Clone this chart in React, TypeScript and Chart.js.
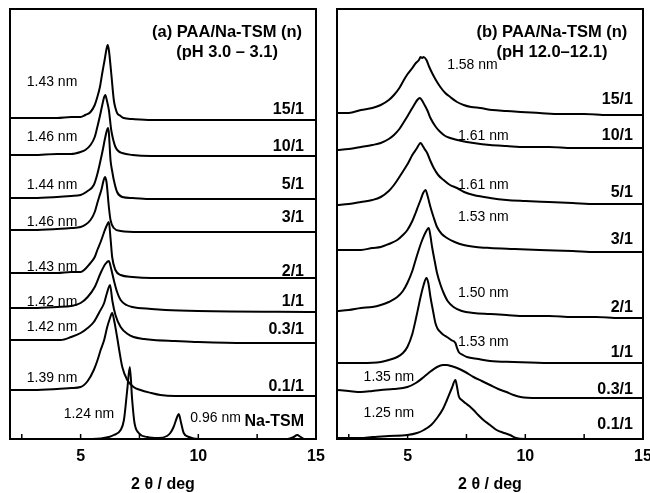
import React, { useEffect, useRef } from 'react';
import { Chart, registerables } from 'chart.js';

Chart.register(...registerables);

const FONT = "'Liberation Sans', Arial, Helvetica, sans-serif";

// ---------- shared axis data ----------
const xRange = [2, 15];
const xTickValues = [5, 10, 15];
const minorTickValues = [2.5, 5, 7.5, 10, 12.5];
const yRange = [0, 430];
const xTitle = '2 θ / deg';

// ---------- panel (a): pH 3.0 – 3.1 ----------
const aTitle = ['(a) PAA/Na-TSM (n)', '(pH 3.0 – 3.1)'];
const aSamples = ['15/1', '10/1', '5/1', '3/1', '2/1', '1/1', '0.3/1', '0.1/1', 'Na-TSM'];
const aOffsets = [319, 283, 240, 207, 161, 127, 96, 43, 0];
const aSpacings = ['1.43 nm', '1.46 nm', '1.44 nm', '1.46 nm', '1.43 nm', '1.42 nm', '1.42 nm', '1.39 nm', '1.24 nm', '0.96 nm'];
const aSpacingX = [2.71, 2.71, 2.71, 2.71, 2.71, 2.71, 2.71, 2.71, 4.28, 9.66];
const aSpacingY = [357, 302, 254, 217, 172, 137, 112, 61, 25, 21];
const aSampleX = 14.49;
const aSampleY = [329, 292, 254, 221, 167, 137, 109, 52, 17];
const aTitleX = 11.22;
const aTitleY = [407, 387];

const a15 = [[2.0,2],[3.0,2],[4.0,2],[4.6,3],[5.0,3],[5.2,5],[5.42,8],[5.6,15],[5.71,23],[5.82,33],[5.92,47],[6.02,60],[6.1,71],[6.15,75],[6.2,70],[6.3,47],[6.41,20],[6.48,12],[6.55,7],[6.7,4],[6.83,2],[7.2,1],[8,0],[10,0],[12,0],[15,0]];
const a10 = [[2.0,1],[3.0,1],[4.0,2],[4.6,2],[5.0,4],[5.2,6],[5.42,11],[5.6,19],[5.71,29],[5.82,40],[5.92,51],[6.0,59],[6.05,61],[6.12,55],[6.2,46],[6.3,26],[6.4,15],[6.48,9],[6.6,5],[6.76,3],[7.2,1],[8,0],[15,0]];
const a5 = [[2.0,1],[3.0,1],[4.0,2],[4.6,3],[5.0,4],[5.3,8],[5.56,14],[5.7,24],[5.85,39],[5.95,50],[6.05,62],[6.16,71],[6.2,66],[6.27,39],[6.34,28],[6.41,19],[6.55,7],[6.77,2],[7.2,1],[8,0],[15,0]];
const a3 = [[2.0,2],[3.0,2],[4.0,3],[4.6,4],[5.0,5],[5.42,12],[5.6,20],[5.71,29],[5.8,36],[5.88,42],[5.97,51],[6.03,55],[6.1,50],[6.2,25],[6.27,12],[6.41,4],[6.7,1],[7.5,0],[15,0]];
const a2 = [[2.0,5],[3.0,5],[4.0,5],[4.6,6],[5.0,6],[5.42,15],[5.6,21],[5.71,28],[5.85,36],[6.0,46],[6.1,52],[6.2,56],[6.27,40],[6.34,21],[6.48,8],[6.7,3],[7.2,1],[8,0],[15,0]];
const a1 = [[2.0,4],[3.0,4],[4.0,5],[4.6,6],[5.0,9],[5.3,15],[5.6,25],[5.85,39],[6.05,48],[6.2,51],[6.3,43],[6.41,32],[6.55,20],[6.7,12],[6.95,7],[7.2,5],[8.0,3],[8.6,2],[10,1],[15,0]];
const a03 = [[2.0,3],[3.0,3],[4.15,3],[4.6,6],[5.0,10],[5.3,15],[5.56,21],[5.8,31],[6.0,40],[6.12,50],[6.25,58],[6.35,42],[6.48,28],[6.7,16],[7.0,9],[7.25,6],[7.7,4],[8.1,3],[9,2],[10,1],[12,0],[15,0]];
const a01 = [[2.0,6],[3.0,6],[4.0,7],[4.6,8],[5.0,9],[5.3,15],[5.56,26],[5.72,36],[5.85,46],[6.0,56],[6.13,69],[6.25,78],[6.34,83],[6.42,76],[6.55,59],[6.66,43],[6.77,29],[6.98,16],[7.25,9],[7.54,6],[8.0,3],[8.39,1],[9,0],[15,0]];
const aNa = [[2.0,0],[5.5,0],[6.2,2],[6.41,4],[6.7,9],[6.84,19],[6.98,49],[7.09,72],[7.19,39],[7.29,16],[7.47,6],[7.83,2],[8.3,1],[8.67,3],[8.81,6],[8.95,12],[9.1,22],[9.17,25],[9.27,16],[9.38,6],[9.6,2],[10,0],[13.8,0],[14.05,2],[14.2,4],[14.35,2],[14.5,0],[15,0]];
const aCurves = [a15, a10, a5, a3, a2, a1, a03, a01, aNa];

// ---------- panel (b): pH 12.0–12.1 ----------
const bTitle = ['(b) PAA/Na-TSM (n)', '(pH 12.0–12.1)'];
const bSamples = ['15/1', '10/1', '5/1', '3/1', '2/1', '1/1', '0.3/1', '0.1/1'];
const bOffsets = [324, 291, 235, 187, 121, 76, 41, 0];
const bSpacings = ['1.58 nm', '1.61 nm', '1.61 nm', '1.53 nm', '1.50 nm', '1.53 nm', '1.35 nm', '1.25 nm'];
const bSpacingX = [6.68, 7.14, 7.14, 7.14, 7.14, 7.14, 3.13, 3.13];
const bSpacingY = [374, 303, 254, 222, 146, 97, 62, 26];
const bSampleX = 14.57;
const bSampleY = [339, 303, 246, 199, 131, 86, 49, 14];
const bTitleX = 11.13;
const bTitleY = [407, 387];

const b15 = [[2.0,2],[2.5,2],[3.02,5],[3.5,7],[3.86,10],[4.2,15],[4.42,20],[4.65,27],[4.84,35],[5.0,41],[5.2,47],[5.35,52],[5.48,55],[5.55,58],[5.62,57],[5.68,58],[5.8,55],[5.92,48],[6.04,42],[6.2,35],[6.39,28],[6.6,22],[6.81,18],[7.1,13],[7.38,10],[7.7,8],[8.08,7],[8.6,5],[9.2,4],[9.8,3],[10.6,2],[11.5,1],[12.5,1],[13.5,0],[15,0]];
const b10 = [[2.0,-2],[2.5,-1],[3.02,1],[3.5,3],[3.86,5],[4.2,9],[4.42,13],[4.65,19],[4.84,26],[5.0,32],[5.2,40],[5.41,48],[5.52,50],[5.6,48],[5.72,43],[5.85,37],[5.97,30],[6.2,21],[6.39,16],[6.6,12],[6.81,10],[7.3,7],[7.8,5],[8.5,3],[9.2,2],[10,1],[11,1],[12,0],[15,0]];
const b5 = [[2.0,-1],[2.5,0],[3.02,2],[3.5,4],[3.86,7],[4.2,13],[4.42,19],[4.65,27],[4.84,34],[5.0,40],[5.2,49],[5.4,56],[5.5,60],[5.55,61],[5.62,59],[5.72,55],[5.83,51],[5.97,43],[6.11,36],[6.3,29],[6.53,24],[6.8,19],[7.1,16],[7.4,12],[7.8,9],[8.5,6],[9.2,4],[10,3],[11,2],[12,1],[13,0],[15,0]];
const b3 = [[2.0,2],[2.5,2],[3.02,2],[3.5,4],[3.86,5],[4.2,8],[4.56,12],[4.8,17],[4.99,22],[5.2,31],[5.34,39],[5.45,46],[5.55,52],[5.66,59],[5.76,62],[5.85,56],[5.97,45],[6.1,35],[6.25,25],[6.45,18],[6.67,14],[7.0,10],[7.38,7],[7.9,5],[8.5,4],[9.5,3],[10.6,2],[12,1],[13,0],[15,0]];
const b2 = [[2.0,7],[2.5,8],[3.02,10],[3.5,11],[3.86,13],[4.2,16],[4.56,21],[4.8,27],[4.99,35],[5.2,47],[5.34,58],[5.5,70],[5.62,78],[5.75,85],[5.9,90],[5.97,82],[6.04,71],[6.15,57],[6.25,45],[6.4,33],[6.53,25],[6.7,17],[6.95,11],[7.3,7],[7.8,5],[8.5,4],[9.2,3],[10,2],[11,2],[12,1],[13,1],[14,0],[15,0]];
const b1 = [[2.0,0],[3.02,0],[3.86,1],[4.2,3],[4.56,6],[4.8,10],[4.99,16],[5.2,29],[5.34,43],[5.45,55],[5.55,66],[5.68,78],[5.8,85],[5.88,80],[5.97,66],[6.08,52],[6.18,40],[6.28,34],[6.39,31],[6.53,28],[6.67,26],[6.85,23],[7.03,20],[7.1,15],[7.17,11],[7.35,8],[7.52,6],[8.0,4],[8.5,2],[9.5,1],[11,0],[15,0]];
const b03 = [[2.0,8],[2.5,7],[3.02,6],[3.5,7],[3.86,8],[4.4,9],[4.99,11],[5.35,15],[5.69,21],[6.0,27],[6.25,31],[6.5,33],[6.67,33],[6.85,32],[7.1,30],[7.45,26],[7.8,21],[8.15,17],[8.5,13],[8.85,9],[9.2,6],[9.5,3],[9.8,1],[10.5,0],[12,0],[15,0]];
const b01 = [[2.0,1],[3.0,1],[3.5,2],[4.2,3],[4.99,4],[5.4,6],[5.69,9],[6.0,14],[6.25,21],[6.5,30],[6.67,39],[6.88,51],[7.03,59],[7.1,52],[7.17,43],[7.3,39],[7.45,36],[7.62,33],[7.8,29],[8.0,24],[8.22,19],[8.5,14],[8.78,9],[9.1,6],[9.35,4],[9.6,1],[10,0],[15,0]];
const bCurves = [b15, b10, b5, b3, b2, b1, b03, b01];

type Label = { text: string; x: number; y: number; align: CanvasTextAlign; font: string };

const overlayPlugin = {
  id: 'overlay',
  afterDatasetsDraw(chart: any, _args: any, opts: any) {
    const { ctx, chartArea: a, scales } = chart;
    const xs = scales.x;
    const ys = scales.y;
    ctx.save();
    ctx.strokeStyle = '#000';
    ctx.lineWidth = 2;
    ctx.strokeRect(a.left, a.top, a.right - a.left, a.bottom - a.top);
    ctx.lineWidth = 1.5;
    for (const v of minorTickValues) {
      const px = xs.getPixelForValue(v);
      ctx.beginPath();
      ctx.moveTo(px, a.bottom);
      ctx.lineTo(px, a.bottom - 5);
      ctx.stroke();
    }
    ctx.fillStyle = '#000';
    ctx.textBaseline = 'middle';
    for (const l of (opts.labels as Label[])) {
      ctx.font = l.font;
      ctx.textAlign = l.align;
      ctx.fillText(l.text, xs.getPixelForValue(l.x), ys.getPixelForValue(l.y));
    }
    ctx.restore();
  },
};

function buildLabels(
  title: string[], titleX: number, titleY: number[],
  spacings: string[], spX: number[], spY: number[],
  samples: string[], sX: number, sY: number[]
): Label[] {
  const out: Label[] = [];
  title.forEach((t, i) => out.push({ text: t, x: titleX, y: titleY[i], align: 'center', font: `bold 16.5px ${FONT}` }));
  spacings.forEach((t, i) => out.push({ text: t, x: spX[i], y: spY[i], align: 'left', font: `14px ${FONT}` }));
  samples.forEach((t, i) => out.push({ text: t, x: sX, y: sY[i], align: 'right', font: `bold 16px ${FONT}` }));
  return out;
}

function makeConfig(curves: number[][][], offsets: number[], labels: Label[], padLeft: number, padRight: number): any {
  return {
    type: 'line',
    data: {
      datasets: curves.map((c, i) => ({
        data: c.map(([x, r]) => ({ x, y: r + offsets[i] })),
        borderColor: '#000',
        borderWidth: 2,
        pointRadius: 0,
        fill: false,
        cubicInterpolationMode: 'monotone',
      })),
    },
    options: {
      responsive: false,
      animation: false,
      events: [],
      layout: { padding: { left: padLeft, right: padRight, top: 9, bottom: 0 } },
      scales: {
        x: {
          type: 'linear',
          min: xRange[0],
          max: xRange[1],
          grid: { display: false, drawTicks: false },
          border: { display: false },
          afterBuildTicks: (s: any) => { s.ticks = xTickValues.map((v) => ({ value: v })); },
          afterFit: (s: any) => { s.paddingLeft = 0; s.paddingRight = 0; },
          ticks: {
            color: '#000',
            padding: 10,
            maxRotation: 0,
            autoSkip: false,
            font: { family: FONT, size: 16, weight: 'bold', lineHeight: 1 },
          },
          title: {
            display: true,
            text: xTitle,
            color: '#000',
            padding: { top: 2, bottom: 0 },
            font: { family: FONT, size: 16, weight: 'bold', lineHeight: 1 },
          },
        },
        y: { display: false, min: yRange[0], max: yRange[1] },
      },
      plugins: {
        legend: { display: false },
        tooltip: { enabled: false },
        overlay: { labels },
      },
    },
    plugins: [overlayPlugin],
  };
}

export default function App() {
  const refA = useRef<HTMLCanvasElement>(null);
  const refB = useRef<HTMLCanvasElement>(null);

  useEffect(() => {
    const labelsA = buildLabels(aTitle, aTitleX, aTitleY, aSpacings, aSpacingX, aSpacingY, aSamples, aSampleX, aSampleY);
    const labelsB = buildLabels(bTitle, bTitleX, bTitleY, bSpacings, bSpacingX, bSpacingY, bSamples, bSampleX, bSampleY);
    const ca = new Chart(refA.current!, makeConfig(aCurves, aOffsets, labelsA, 10, 10));
    const cb = new Chart(refB.current!, makeConfig(bCurves, bOffsets, labelsB, 11, 7));
    return () => { ca.destroy(); cb.destroy(); };
  }, []);

  return (
    <div style={{ position: 'absolute', left: 0, top: 0, width: 650, height: 493, background: '#fff', overflow: 'hidden' }}>
      <canvas ref={refA} width={326} height={493} style={{ position: 'absolute', left: 0, top: 0 }} />
      <canvas ref={refB} width={324} height={493} style={{ position: 'absolute', left: 326, top: 0 }} />
    </div>
  );
}
